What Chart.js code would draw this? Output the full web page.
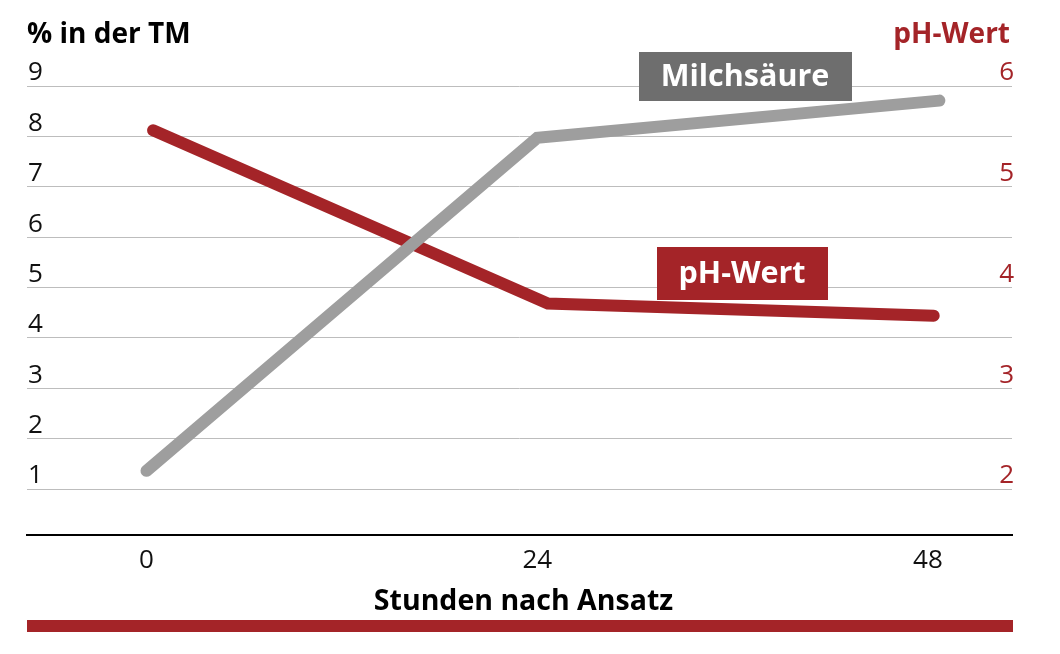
<!DOCTYPE html>
<html>
<head>
<meta charset="utf-8">
<script src="https://cdn.jsdelivr.net/npm/chart.js@4"></script>
<style>
html,body{margin:0;padding:0;background:#fff;}
canvas{display:block;}
</style>
</head>
<body>
<canvas id="c" width="1060" height="654"></canvas>
<script>
// ---- data ----
const xTickValues = [0, 24, 48];
const milchHours = [0, 24, 48.7];
const milchsaeure = [1.36, 7.97, 8.71];
const phHours = [0.4, 24.65, 48.35];
const phWert = [5.56, 3.84, 3.72];
const leftTickValues = [1, 2, 3, 4, 5, 6, 7, 8, 9];
const rightTickValues = [2, 3, 4, 5, 6];
const leftTitle = '% in der TM';
const rightTitle = 'pH-Wert';
const xTitle = 'Stunden nach Ansatz';
const milchLabel = 'Milchsäure';
const phLabel = 'pH-Wert';

const RED = '#a42428';
const GRAY = '#9e9e9e';
const BOXGRAY = '#6e6e6e';
const FONT = '"Open Sans", "Noto Sans", sans-serif';

const decor = {
  id: 'decor',
  afterDatasetsDraw(chart) {
    const ctx = chart.ctx;
    const ca = chart.chartArea;
    const xs = chart.scales.x, yl = chart.scales.yL, yr = chart.scales.yR;
    ctx.save();
    // axis titles
    ctx.font = 'bold 28px ' + FONT;
    ctx.textBaseline = 'alphabetic';
    ctx.fillStyle = '#000';
    ctx.textAlign = 'left';
    ctx.fillText(leftTitle, ca.left, ca.top - 43);
    ctx.fillStyle = RED;
    ctx.textAlign = 'right';
    ctx.fillText(rightTitle, ca.right - 2, ca.top - 43);
    ctx.fillStyle = '#000';
    ctx.textAlign = 'center';
    ctx.font = 'bold 28.5px ' + FONT;
    ctx.fillText(xTitle, (ca.left + ca.right) / 2 + 4, ca.bottom + 75);
    // red bar
    ctx.fillStyle = RED;
    ctx.fillRect(ca.left, ca.bottom + 85, ca.right - ca.left + 1, 12);
    // series labels
    function box(text, hx, v, scale, color, h) {
      ctx.font = 'bold 30.5px ' + FONT;
      const w = ctx.measureText(text).width + 44;
      const cx = xs.getPixelForValue(hx);
      const cy = scale.getPixelForValue(v);
      ctx.fillStyle = color;
      ctx.fillRect(Math.round(cx - w / 2), Math.round(cy - h / 2), Math.round(w), h);
      ctx.fillStyle = '#fff';
      ctx.textAlign = 'center';
      ctx.textBaseline = 'middle';
      ctx.fillText(text, cx, cy + 1);
    }
    box(milchLabel, 36.76, 9.19, yl, BOXGRAY, 49);
    box(phLabel, 36.58, 4.14, yr, RED, 53);
    ctx.restore();
  }
};

new Chart(document.getElementById('c'), {
  type: 'line',
  data: {
    datasets: [
      {
        label: milchLabel,
        data: milchHours.map((h, i) => ({x: h, y: milchsaeure[i]})),
        yAxisID: 'yL',
        borderColor: GRAY,
        borderWidth: 12,
        borderCapStyle: 'round',
        borderJoinStyle: 'miter',
        pointRadius: 0,
        tension: 0
      },
      {
        label: phLabel,
        data: phHours.map((h, i) => ({x: h, y: phWert[i]})),
        yAxisID: 'yR',
        borderColor: RED,
        borderWidth: 12,
        borderCapStyle: 'round',
        borderJoinStyle: 'miter',
        pointRadius: 0,
        tension: 0
      }
    ]
  },
  options: {
    responsive: false,
    animation: false,
    devicePixelRatio: 1,
    layout: {padding: {left: 27, right: 48, top: 86, bottom: 0}},
    plugins: {legend: {display: false}, tooltip: {enabled: false}, title: {display: false}},
    elements: {line: {clip: false}},
    scales: {
      x: {
        type: 'linear',
        min: -7.34,
        max: 53.16,
        bounds: 'data',
        afterBuildTicks: s => { s.ticks = xTickValues.map(v => ({value: v})); },
        afterFit: s => { s.height = 119; },
        grid: {display: false, drawTicks: false},
        border: {display: true, color: '#000', width: 2},
        ticks: {color: '#111', font: {family: FONT, size: 26}, padding: 10, maxRotation: 0, autoSkip: false}
      },
      yL: {
        type: 'linear',
        position: 'left',
        min: 0.087,
        max: 9,
        bounds: 'data',
        afterBuildTicks: s => { s.ticks = leftTickValues.map(v => ({value: v})); },
        afterFit: s => { s.width = 0; },
        grid: {color: '#bdbdbd', lineWidth: 1, drawTicks: false},
        border: {display: false},
        ticks: {mirror: true, padding: 1, labelOffset: -13, color: '#111', font: {family: FONT, size: 26}}
      },
      yR: {
        type: 'linear',
        position: 'right',
        min: 1.5434,
        max: 6,
        bounds: 'data',
        afterBuildTicks: s => { s.ticks = rightTickValues.map(v => ({value: v})); },
        afterFit: s => { s.width = 0; },
        grid: {display: false, drawTicks: false},
        border: {display: false},
        ticks: {mirror: true, padding: 2, labelOffset: -13, color: RED, font: {family: FONT, size: 26}}
      }
    }
  },
  plugins: [decor]
});
</script>
</body>
</html>
